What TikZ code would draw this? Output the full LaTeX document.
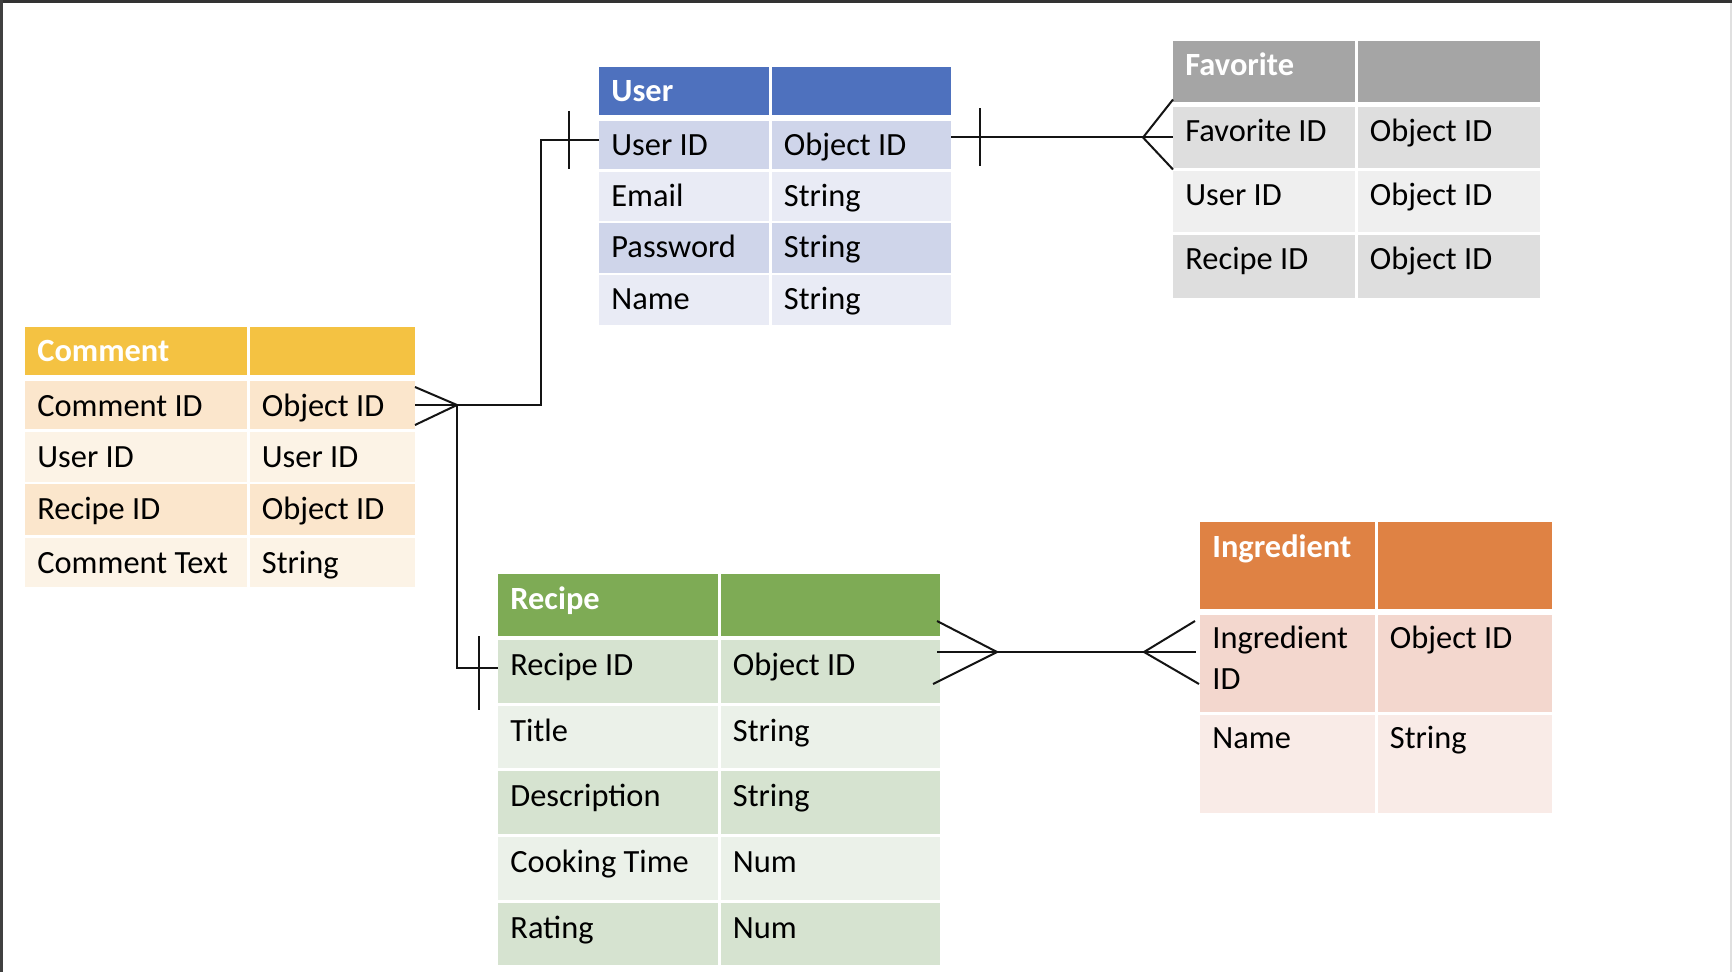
\documentclass[tikz,border=0pt]{standalone}
\usepackage{fontspec}
\setmainfont{Carlito}
\usepackage{tikz}
\usetikzlibrary{calc,positioning}
\definecolor{userhead}{RGB}{78,113,190}
\definecolor{userdark}{RGB}{207,213,234}
\definecolor{userlight}{RGB}{233,235,245}
\definecolor{favhead}{RGB}{165,165,165}
\definecolor{favdark}{RGB}{222,222,222}
\definecolor{favlight}{RGB}{239,239,239}
\definecolor{cmthead}{RGB}{244,194,66}
\definecolor{cmtdark}{RGB}{251,230,204}
\definecolor{cmtlight}{RGB}{252,243,230}
\definecolor{rcphead}{RGB}{126,171,85}
\definecolor{rcpdark}{RGB}{214,227,208}
\definecolor{rcplight}{RGB}{235,241,233}
\definecolor{inghead}{RGB}{223,130,68}
\definecolor{ingdark}{RGB}{243,215,206}
\definecolor{inglight}{RGB}{249,235,231}
\definecolor{reledgecolor}{RGB}{20,20,20}
\tikzstyle{cell}=[rectangle,anchor=north west,inner sep=0pt,outer sep=0pt]
\tikzstyle{celltext}=[anchor=base west,inner sep=0pt,font=\fontsize{16.2}{20.5}\selectfont]
\tikzstyle{headtext}=[celltext,text=white,font=\fontsize{16.2}{20.5}\selectfont\bfseries]
\tikzstyle{rel}=[line width=1pt,reledgecolor]
% one table row: table, row, top, bottom, fill, left text, right text
\newcommand{\erow}[7]{%
  \node[cell,fill=#5,minimum width={(\colM-1.5-\colL)*0.5pt},minimum height={(#4-#3)*0.5pt}] (#1-#2-a) at (\colL,#3) {};
  \node[cell,fill=#5,minimum width={(\colR-\colM-1.5)*0.5pt},minimum height={(#4-#3)*0.5pt}] (#1-#2-b) at (\colM+1.5,#3) {};
  \node[celltext] (#1-#2-at) at ([shift={(12,\toff)}]#1-#2-a.north west) {#6};
  \node[celltext] (#1-#2-bt) at ([shift={(12,\toff)}]#1-#2-b.north west) {#7};}
% header row: table, top, bottom, fill, title
\newcommand{\ehead}[5]{%
  \node[cell,fill=#4,minimum width={(\colM-1.5-\colL)*0.5pt},minimum height={(#3-#2)*0.5pt}] (#1-0-a) at (\colL,#2) {};
  \node[cell,fill=#4,minimum width={(\colR-\colM-1.5)*0.5pt},minimum height={(#3-#2)*0.5pt}] (#1-0-b) at (\colM+1.5,#2) {};
  \node[headtext] (#1-0-at) at ([shift={(12,\toff)}]#1-0-a.north west) {#5};}

\begin{document}
\begin{tikzpicture}[x=0.5pt,y=-0.5pt]
\def\toff{35}

	% Canvas
    \useasboundingbox (0,0) rectangle (1732,972);
    \fill[white] (0,0) rectangle (1732,972);
    \fill[black!80] (0,0) rectangle (1732,3);
    \fill[black!75] (0,0) rectangle (3,972);
    \fill[black!12] (1730,3) rectangle (1732,972);

	% User
    \def\colL{599}\def\colM{770}\def\colR{951}
    \ehead{U}{67}{115}{userhead}{User}
    \foreach \r/\ya/\yb/\fc/\txa/\txb in {1/121/169/userdark/User ID/Object ID, 2/172/221/userlight/Email/String, 3/223/273/userdark/Password/String, 4/275/325/userlight/Name/String}
        {\erow{U}{\r}{\ya}{\yb}{\fc}{\txa}{\txb}}

	% Favorite
    \def\colL{1173}\def\colM{1356}\def\colR{1540}
    \ehead{F}{41}{102}{favhead}{Favorite}
    \foreach \r/\ya/\yb/\fc/\txa/\txb in {1/107/168/favdark/Favorite ID/Object ID, 2/171/232/favlight/User ID/Object ID, 3/235/298/favdark/Recipe ID/Object ID}
        {\erow{F}{\r}{\ya}{\yb}{\fc}{\txa}{\txb}}

	% Comment
    \def\colL{25}\def\colM{248}\def\colR{415}
    \ehead{C}{327}{375}{cmthead}{Comment}
    \foreach \r/\ya/\yb/\fc/\txa/\txb in {1/381/429/cmtdark/Comment ID/Object ID, 2/432/482/cmtlight/User ID/User ID, 3/484/535/cmtdark/Recipe ID/Object ID, 4/538/587/cmtlight/Comment Text/String}
        {\erow{C}{\r}{\ya}{\yb}{\fc}{\txa}{\txb}}

	% Recipe
    \def\colL{498}\def\colM{719}\def\colR{940}
    \ehead{R}{574}{636}{rcphead}{Recipe}
    \foreach \r/\ya/\yb/\fc/\txa/\txb in {1/640/703/rcpdark/Recipe ID/Object ID, 2/706/768/rcplight/Title/String, 3/771/834/rcpdark/Description/String, 4/837/900/rcplight/Cooking Time/Num, 5/903/965/rcpdark/Rating/Num}
        {\erow{R}{\r}{\ya}{\yb}{\fc}{\txa}{\txb}}

	% Ingredient
    \def\colL{1200}\def\colM{1376}\def\colR{1552}
    \ehead{I}{522}{609}{inghead}{Ingredient}
    \def\toff{33}
    \erow{I}{1}{615}{712}{ingdark}{\begin{tabular}[t]{@{}l@{}}Ingredient\\ID\end{tabular}}{Object ID}
    \erow{I}{2}{715}{813}{inglight}{Name}{String}

	% User -> Comment
    \coordinate (cj) at ([xshift=21pt]C-1-b.east);
    \draw[rel] ([yshift=2.5pt]U-1-a.west) coordinate (uc) -- ++(-58,0) |- (cj);
    \draw[rel] ([shift={(-30,-29)}]uc) -- ([shift={(-30,29)}]uc);
    \draw[rel] (C-1-b.east) -- (cj);
    \draw[rel] ([yshift=9pt]C-1-b.east) -- (cj) -- ([yshift=-10pt]C-1-b.east);

	% Recipe -> Comment
    \draw[rel] (cj) |- ([yshift=1.75pt]R-1-a.west) coordinate (rc);
    \draw[rel] ([shift={(-19,-32)}]rc) -- ([shift={(-19,42)}]rc);

	% User -> Favorite
    \coordinate (uf) at (F-1-a.west);
    \coordinate (fu) at (uf -| U-1-b.east);
    \coordinate (fj) at ([xshift=-15pt]uf);
    \draw[rel] (fu) -- (uf);
    \draw[rel] ([shift={(29,-29)}]fu) -- ([shift={(29,29)}]fu);
    \draw[rel] ([yshift=19pt]uf) -- (fj) -- ([yshift=-16pt]uf);

	% Recipe -> Ingredient
    \coordinate (ri) at ([yshift=9.75pt]R-1-b.east);
    \coordinate (ir) at (ri -| I-1-a.west);
    \coordinate (rj) at ([xshift=28.5pt]ri);
    \coordinate (ij) at ([xshift=-28pt]ir);
    \draw[rel] ([xshift=-1.5pt]ri) -- (rj) -- (ij) -- ([xshift=-2pt]ir);
    \draw[rel] ([shift={(-3,-31)}]ri) -- (rj) -- ([shift={(-7,32)}]ri);
    \draw[rel] ([shift={(-5,-31)}]ir) -- (ij) -- ([shift={(-1,32)}]ir);

\end{tikzpicture}
\end{document}
